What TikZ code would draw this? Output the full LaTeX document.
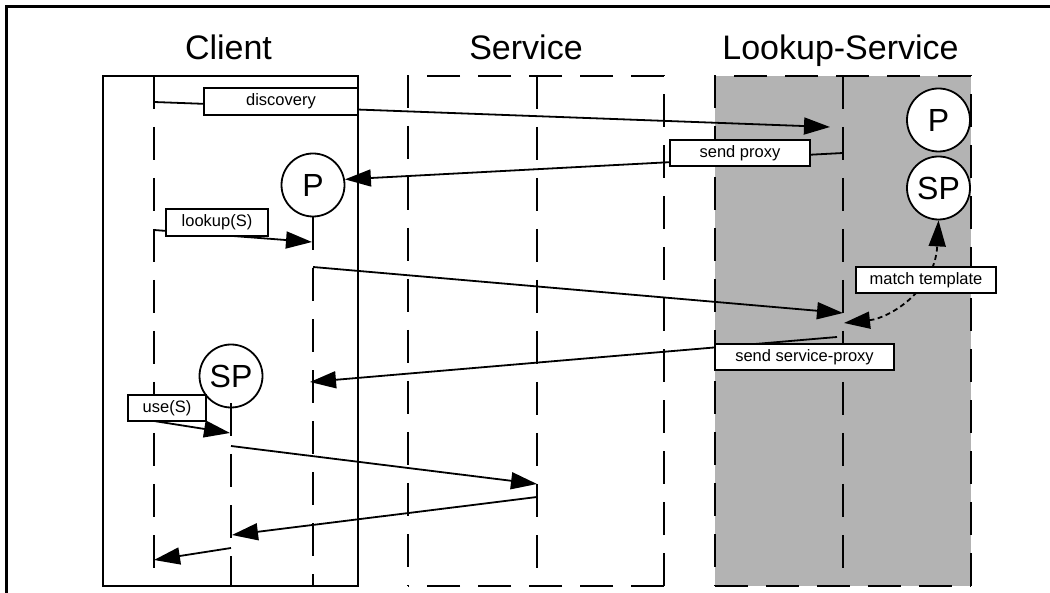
\documentclass[tikz,border=0pt]{standalone}
\usepackage{fontspec}
\setmainfont{Liberation Sans}
\usetikzlibrary{arrows.meta}

\newcommand\hdrfont{\fontsize{34}{40}\selectfont}
\newcommand\lblfont{\fontsize{16.5}{19}\selectfont}
\newcommand\objcfont{\fontsize{32}{38}\selectfont}

\definecolor{lsgray}{RGB}{179,179,179}

\begin{document}
\begin{tikzpicture}[x=1pt,y=-1pt,
  lifeline/.style={line width=1.8pt, dash pattern=on 33pt off 18pt},
  msgline/.style={line width=1.8pt, -{Triangle[length=26pt,width=17pt]}},
  lblbox/.style={draw, fill=white, line width=1.8pt, inner sep=0pt, font=\lblfont},
  objc/.style={circle, draw, fill=white, line width=1.8pt, minimum size=63pt, inner sep=0pt, font=\objcfont},
  hdr/.style={anchor=base, font=\hdrfont}]

\useasboundingbox (0,0) rectangle (1050,593);

% outer frame (top and left edges)
\draw[line width=2.2pt] (6.5,593) -- (6.5,6.5) -- (1050,6.5);

% column headings
\node[hdr] (hC) at (228.5,60) {Client};
\node[hdr] (hS) at (526,60) {Service};
\node[hdr] (hL) at (840.5,60) {Lookup-Service};

% shaded lookup-service area
\fill[lsgray] (715,76) rectangle (971,586);

% proxy objects
\node[objc] (P1) at (313,185) {P};
\node[objc] (SP1) at (231,376) {SP};
\node[objc] (P2) at (938.5,120) {P};
\node[objc] (SP2) at (938.5,188) {SP};

% client box (solid)
\draw[line width=1.8pt] (103,76) rectangle (358,586);

% service box (dashed)
\draw[lifeline] (664,586) -- (664,76) -- (408,76) -- (408,586);
\draw[lifeline] (664,586) -- (408,586);

% lookup-service box (dashed)
\draw[lifeline] (971,586) -- (971,76) -- (715,76) -- (715,586);
\draw[lifeline] (715,586) -- (971,586);

% lifelines
\coordinate (c1t) at (154,76);  \coordinate (c1b) at (154,586);
\coordinate (c2b) at (313,586);
\coordinate (c3t) at (231,403); \coordinate (c3b) at (231,586);
\coordinate (s1t) at (537,76);  \coordinate (s1b) at (537,586);
\coordinate (l1t) at (843,76);  \coordinate (l1b) at (843,586);
\draw[lifeline] (c1t) -- (c1b);
\draw[lifeline] (P1.south) -- (c2b);
\draw[lifeline] (c3t) -- (c3b);
\draw[lifeline] (s1t) -- (s1b);
\draw[lifeline] (l1t) -- (l1b);

% message end points
\coordinate (m1s) at (154,102); \coordinate (m1e) at (830,127);
\coordinate (m2s) at (843,153);
\coordinate (m3s) at (154,230); \coordinate (m3e) at (312,242);
\coordinate (m4s) at (313,267); \coordinate (m4e) at (843,313);
\coordinate (m5s) at (837,337); \coordinate (m5e) at (310,382);
\coordinate (m6s) at (844,323);
\coordinate (m7s) at (154,421); \coordinate (m7e) at (230,433);
\coordinate (m8s) at (231,446); \coordinate (m8e) at (537,484);
\coordinate (m9s) at (537,497); \coordinate (m9e) at (232,535);
\coordinate (m10s) at (231,548); \coordinate (m10e) at (154,560);

% messages
\draw[msgline] (m1s) -- (m1e);
\draw[msgline] (m2s) -- (P1.10);
\draw[msgline] (m3s) -- (m3e);
\draw[msgline] (m4s) -- (m4e);
\draw[msgline] (m5s) -- (m5e);
\draw[line width=1.8pt, dash pattern=on 5pt off 3.5pt,
      {Triangle[length=26pt,width=17pt]}-{Triangle[length=26pt,width=17pt]}]
  (m6s) .. controls (890,318) and (935,290) .. (SP2.south);
\draw[msgline] (m7s) -- (m7e);
\draw[msgline] (m8s) -- (m8e);
\draw[msgline] (m9s) -- (m9e);
\draw[msgline] (m10s) -- (m10e);

% message labels
\node[lblbox, minimum width=154pt, minimum height=27pt] (tDisc) at (281,101.5) {discovery};
\node[lblbox, minimum width=140pt, minimum height=26pt] (tProxy) at (740,153) {send proxy};
\node[lblbox, minimum width=102pt, minimum height=27pt] (tLook) at (217,222.5) {lookup(S)};
\node[lblbox, minimum width=140pt, minimum height=26pt] (tMatch) at (926,280) {match template};
\node[lblbox, minimum width=179pt, minimum height=26pt] (tSend) at (804.5,357) {send service-proxy};
\node[lblbox, minimum width=78pt, minimum height=26pt] (tUse) at (167,408) {use(S)};

\end{tikzpicture}
\end{document}
